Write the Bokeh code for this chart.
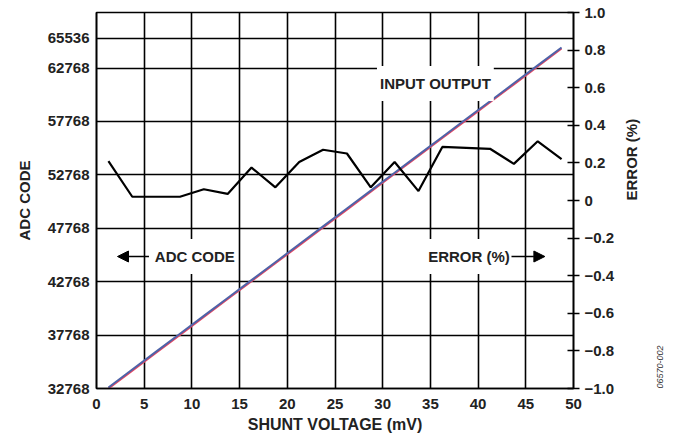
import math
from bokeh.plotting import figure
from bokeh.models import Range1d, LinearAxis, FixedTicker, Label, Arrow, NormalHead
from bokeh.embed import file_html
from bokeh.resources import INLINE

# ---- data ----
shunt_mv = [1.25, 3.75, 6.25, 8.75, 11.25, 13.75, 16.25, 18.75, 21.25, 23.75,
            26.25, 28.75, 31.25, 33.75, 36.25, 38.75, 41.25, 43.75, 46.25, 48.75]
error_pct = [0.21, 0.02, 0.02, 0.02, 0.06, 0.035, 0.175, 0.07, 0.205, 0.27,
             0.25, 0.07, 0.205, 0.05, 0.285, 0.28, 0.275, 0.195, 0.315, 0.22]
adc_input = [32768, 34443, 36118, 37793, 39468, 41143, 42818, 44493, 46168, 47843,
             49518, 51193, 52868, 54543, 56218, 57893, 59568, 61243, 62918, 64593]
adc_output = [32868, 34543, 36218, 37893, 39568, 41243, 42918, 44593, 46268, 47943,
              49618, 51293, 52968, 54643, 56318, 57993, 59668, 61343, 63018, 64693]

x_ticks = [0, 5, 10, 15, 20, 25, 30, 35, 40, 45, 50]
adc_ticks = [32768, 37768, 42768, 47768, 52768, 57768, 62768, 65536]
err_ticks = [-1.0, -0.8, -0.6, -0.4, -0.2, 0.0, 0.2, 0.4, 0.6, 0.8, 1.0]
err_labels = ["\u22121.0", "\u22120.8", "\u22120.6", "\u22120.4", "\u22120.2", "0",
              "0.2", "0.4", "0.6", "0.8", "1.0"]

FONT = "Liberation Sans"
FS = "15px"
TXT = "#222222"

p = figure(width=673, height=439, output_backend="svg", toolbar_location=None,
           x_range=Range1d(0, 50), y_range=Range1d(32768, 67970),
           min_border_left=96, min_border_right=100, min_border_top=12,
           min_border_bottom=51)
p.extra_y_ranges = {"err": Range1d(-1.0, 1.0)}

p.outline_line_color = "black"
p.outline_line_width = 1.6
p.background_fill_color = "white"
p.border_fill_color = "white"

# grids
p.xgrid.ticker = FixedTicker(ticks=x_ticks)
p.ygrid.ticker = FixedTicker(ticks=adc_ticks)
for g in (p.xgrid, p.ygrid):
    g.grid_line_color = "black"
    g.grid_line_width = 1.6
    g.grid_line_alpha = 1.0

# bottom axis
xa = p.xaxis[0]
xa.ticker = FixedTicker(ticks=x_ticks)
xa.major_tick_in = 0
xa.major_tick_out = 0
xa.minor_tick_line_color = None
xa.axis_line_color = "black"
xa.axis_line_width = 1.6
xa.major_label_standoff = 10
xa.major_label_text_font = FONT
xa.major_label_text_font_size = FS
xa.major_label_text_font_style = "bold"
xa.major_label_text_color = TXT
xa.axis_label = "SHUNT VOLTAGE (mV)"
xa.axis_label_standoff = 4
xa.axis_label_text_font = FONT
xa.axis_label_text_font_size = "16px"
xa.axis_label_text_font_style = "bold"
xa.axis_label_text_color = TXT

# left axis
ya = p.yaxis[0]
ya.ticker = FixedTicker(ticks=adc_ticks)
ya.major_tick_in = 0
ya.major_tick_out = 0
ya.minor_tick_line_color = None
ya.axis_line_color = "black"
ya.axis_line_width = 1.6
ya.major_label_standoff = 7
ya.major_label_text_font = FONT
ya.major_label_text_font_size = FS
ya.major_label_text_font_style = "bold"
ya.major_label_text_color = TXT
ya.axis_label = "ADC CODE"
ya.axis_label_standoff = 12
ya.axis_label_text_font = FONT
ya.axis_label_text_font_size = "15px"
ya.axis_label_text_font_style = "bold"
ya.axis_label_text_color = TXT

# right axis
ra = LinearAxis(y_range_name="err")
ra.ticker = FixedTicker(ticks=err_ticks)
ra.major_label_overrides = {t: s for t, s in zip(err_ticks, err_labels)}
ra.major_tick_in = 6
ra.major_tick_out = 6
ra.major_tick_line_width = 1.6
ra.minor_tick_line_color = None
ra.axis_line_color = "black"
ra.axis_line_width = 1.6
ra.major_label_standoff = 5
ra.major_label_text_font = FONT
ra.major_label_text_font_size = FS
ra.major_label_text_font_style = "bold"
ra.major_label_text_color = TXT
ra.axis_label = "ERROR (%)"
ra.axis_label_standoff = 14
ra.axis_label_text_font = FONT
ra.axis_label_text_font_size = "15px"
ra.axis_label_text_font_style = "bold"
ra.axis_label_text_color = TXT
try:
    ra.axis_label_orientation = math.pi / 2
except Exception:
    pass
p.add_layout(ra, "right")

# second, bare right axis that only carries the figure id text
ida = LinearAxis(y_range_name="err")
ida.ticker = FixedTicker(ticks=[])
ida.major_tick_line_color = None
ida.minor_tick_line_color = None
ida.axis_line_color = None
ida.major_label_text_font_size = "1px"
ida.axis_label = "06570-002"
ida.axis_label_standoff = 8
ida.axis_label_text_font = FONT
ida.axis_label_text_font_size = "9px"
ida.axis_label_text_color = "#333333"
try:
    ida.axis_label_orientation = math.pi / 2
    ida.axis_label_align = "start"
except Exception:
    pass
p.add_layout(ida, "right")

# data lines
p.line(shunt_mv, adc_input, line_color="#e8455f", line_width=2)
p.line(shunt_mv, adc_output, line_color="#4f63a8", line_width=2)
p.line(shunt_mv, error_pct, y_range_name="err", line_color="black", line_width=2.2)

# in-plot labels (white background breaks the grid lines)
lab_kw = dict(text_font=FONT, text_font_size=FS, text_font_style="bold",
              text_color=TXT, text_baseline="middle",
              background_fill_color="white", padding=dict(x=3, y=9))
p.add_layout(Label(x=29.4, y=61322, text="INPUT OUTPUT", text_align="left", **lab_kw))
p.add_layout(Label(x=5.8, y=45126, text="ADC CODE", text_align="left", **lab_kw))
p.add_layout(Label(x=34.45, y=45126, text="ERROR (%)", text_align="left", **lab_kw))

head = dict(size=11, fill_color="black", line_color="black")
p.add_layout(Arrow(x_start=5.5, y_start=45126, x_end=2.2, y_end=45126,
                   line_width=1.6, end=NormalHead(**head)))
p.add_layout(Arrow(x_start=43.5, y_start=45126, x_end=47.0, y_end=45126,
                   line_width=1.6, end=NormalHead(**head)))

open("out.html", "w").write(file_html(p, INLINE))
